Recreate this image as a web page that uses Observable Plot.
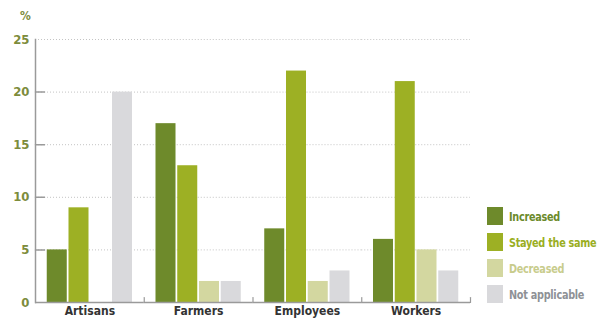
<!DOCTYPE html>
<html>
<head>
<meta charset="utf-8">
<script src="https://cdn.jsdelivr.net/npm/d3@7"></script>
<script src="https://cdn.jsdelivr.net/npm/@observablehq/plot@0.6"></script>
<style>
  body { margin: 0; background: #fff; }
  #wrap { position: relative; width: 602px; height: 323px; overflow: hidden; background: #fff;
          font-family: "Liberation Sans Narrow", "DejaVu Sans Condensed", "Liberation Sans", sans-serif; font-weight: bold; }
  #pct { position: absolute; left: 20px; top: 9px; font-size: 12px; color: #7d8c3c; }
  #legend { position: absolute; left: 487px; top: 207px; }
  .row { display: flex; align-items: center; height: 18px; margin-bottom: 8px; white-space: nowrap; }
  .sw { width: 16px; height: 18px; margin-right: 6px; flex: none; }
  .lt { display: inline-block; font-size: 12.5px; letter-spacing: -0.3px; transform: scaleX(0.86); transform-origin: left center; }
</style>
</head>
<body>
<div id="wrap">
  <div id="chart"></div>
  <div id="pct">%</div>
  <div id="legend"></div>
</div>
<script>
const categories = ["Artisans", "Farmers", "Employees", "Workers"];
const series = ["Increased", "Stayed the same", "Decreased", "Not applicable"];
const increased = [5, 17, 7, 6];
const stayedTheSame = [9, 13, 22, 21];
const decreased = [null, 2, 2, 5];
const notApplicable = [20, 2, 3, 3];
const yTicks = [0, 5, 10, 15, 20, 25];

const barColors = ["#6e8a2b", "#9db024", "#d3d7a0", "#d9d9dc"];
const legendTextColors = ["#6b8a2a", "#9aae22", "#c8cc8c", "#8e9196"];

const seriesValues = [increased, stayedTheSame, decreased, notApplicable];
const data = categories.flatMap((c, i) =>
  series.map((s, j) => ({category: c, series: s, value: seriesValues[j][i]}))
).filter(d => d.value != null);

const innerTicks = yTicks.filter(t => t > 0 && t < 25).map(t => ({fx: categories[0], y: t}));
const lineShape = {draw(context, l) { context.moveTo(0, 0); context.lineTo(0, -l); }};

const chart = Plot.plot({
  width: 602,
  height: 323,
  marginTop: 39,
  marginRight: 132,
  marginBottom: 21,
  marginLeft: 35,
  style: {fontFamily: "'Liberation Sans Narrow', 'DejaVu Sans Condensed', sans-serif", fontWeight: "bold", background: "transparent"},
  fx: {domain: categories, padding: 0, round: false, label: null},
  x: {domain: series, paddingInner: 0.08, paddingOuter: 0.54, round: false, axis: null},
  y: {domain: [0, 25], label: null},
  color: {domain: series, range: barColors},
  marks: [
    Plot.gridY(yTicks.filter(t => t > 0), {stroke: "#c4c4c4", strokeOpacity: 1, strokeDasharray: "1,2"}),
    Plot.barY(data, {fx: "category", x: "series", y: "value", fill: "series"}),
    Plot.ruleY([0], {stroke: "#9a9a9a", strokeWidth: 1.5}),
    Plot.frame({facet: "super", anchor: "left", stroke: "#9a9a9a", strokeWidth: 1.5}),
    Plot.vector(innerTicks, {fx: "fx", y: "y", frameAnchor: "left", rotate: 90, length: 9, anchor: "start", stroke: "#9a9a9a", strokeWidth: 1.5, shape: lineShape}),
    Plot.vector([0], {frameAnchor: "bottom-right", rotate: 0, length: 5, anchor: "start", stroke: "#9a9a9a", strokeWidth: 1.2, shape: lineShape}),
    Plot.axisY(yTicks, {tickSize: 0, tickPadding: 6, fill: "#7d8c3c", fontSize: 13, fontWeight: "bold", label: null}),
    Plot.axisFx({anchor: "bottom", tickSize: 0, tickPadding: 4, fill: "#333", fontSize: 12, fontWeight: "bold", letterSpacing: "-0.3px", label: null})
  ]
});
document.getElementById("chart").appendChild(chart);

const legend = document.getElementById("legend");
series.forEach((s, i) => {
  const row = document.createElement("div");
  row.className = "row";
  const sw = document.createElement("div");
  sw.className = "sw";
  sw.style.background = barColors[i];
  const t = document.createElement("span");
  t.className = "lt";
  t.style.color = legendTextColors[i];
  t.textContent = s;
  row.appendChild(sw);
  row.appendChild(t);
  legend.appendChild(row);
});
</script>
</body>
</html>
